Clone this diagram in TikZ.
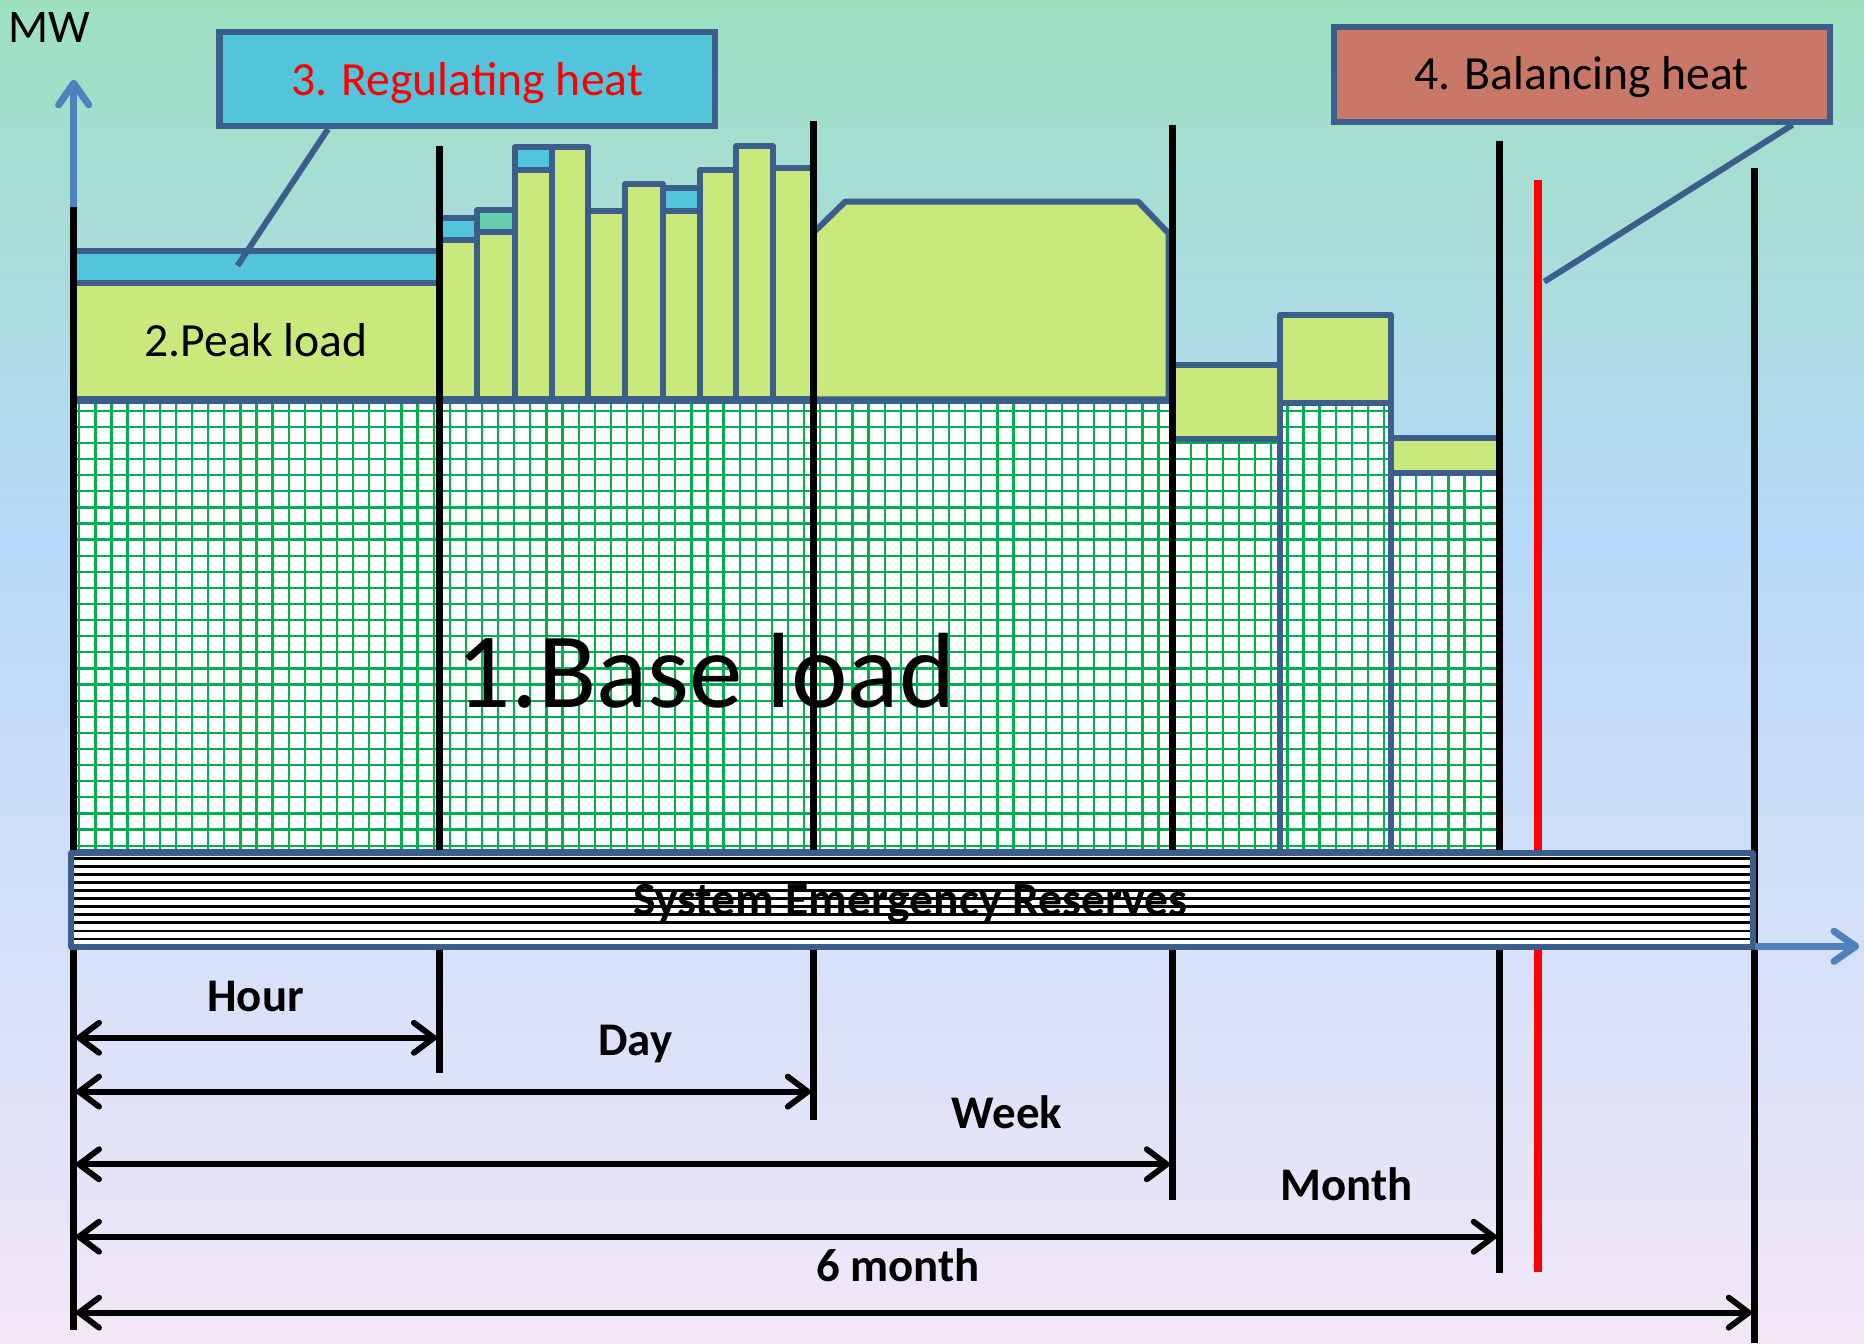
\documentclass[tikz,border=0pt]{standalone}
\usepackage{fontspec}
\setmainfont{Carlito}
\usetikzlibrary{arrows.meta}
\definecolor{bgA}{RGB}{157,224,192}
\definecolor{bgB}{RGB}{183,217,249}
\definecolor{bgC}{RGB}{242,231,247}
\definecolor{bordblue}{RGB}{59,94,139}
\definecolor{peakc}{RGB}{202,233,125}
\definecolor{regc}{RGB}{82,197,220}
\definecolor{tealc}{RGB}{102,205,176}
\definecolor{balc}{RGB}{201,119,103}
\definecolor{axisblue}{RGB}{79,129,189}
\definecolor{gridgreen}{RGB}{0,176,80}
\definecolor{redline}{RGB}{255,0,0}
\tikzset{
  blk/.style={draw=black, line width=4.3pt},
  bb/.style={draw=bordblue, line width=3.6pt, line join=round},
  pk/.style={bb, fill=peakc},
  gridl/.style={draw=gridgreen, line width=1.35pt},
  hatchl/.style={draw=black, line width=1.5pt},
  dimarrow/.style={draw=black, line width=3.5pt,
    {Straight Barb[length=12pt,width=18pt,round]}-{Straight Barb[length=12pt,width=18pt,round]}},
  axisarrow/.style={draw=axisblue, line width=4.2pt, -{Straight Barb[length=13pt,width=18pt,round]}},
  callout/.style={draw=bordblue, line width=3.6pt},
  boldlbl/.style={inner sep=0pt, anchor=base, font=\fontsize{28}{32}\selectfont\bfseries},
  reglbl/.style={inner sep=0pt, anchor=base, font=\fontsize{28.5}{32}\selectfont},
}
\begin{document}
\begin{tikzpicture}[x=0.025cm, y=-0.025cm]
\useasboundingbox (0,0) rectangle (1568,1130);
% background
\shade[top color=bgA, bottom color=bgB] (0,0) rectangle (1568,451);
\shade[top color=bgB, bottom color=bgC] (0,450) rectangle (1568,1130);

% base load grid
\begin{scope}
\clip (62,337) -- (986,337) -- (986,369.5) -- (1077,369.5) -- (1077,339) -- (1170,339)
      -- (1170,398) -- (1261,398) -- (1261,717) -- (62,717) -- cycle;
\fill[white] (0,300) rectangle (1300,730);
\foreach \i in {0,...,88} \draw[gridl] ({66.7+13.55*\i},330) -- ({66.7+13.55*\i},720);
\foreach \j in {0,...,27} \draw[gridl] (60,{345.5+13.55*\j}) -- (1265,{345.5+13.55*\j});
\end{scope}
\draw[bb] (62,337) rectangle (986,717);
\draw[bb] (986,369.5) rectangle (1077,717);
\draw[bb] (1077,339) rectangle (1170,717);
\draw[bb] (1170,398) rectangle (1261,717);

% peak load + regulating
\draw[pk] (62,238) rectangle (370,336);
\draw[bb, fill=regc] (62,211) rectangle (370,238);
\foreach \a/\b/\t in {370/401.5/202, 401.5/433/195, 433/464/143, 464/495/124,
  495/526/177.5, 526/557.5/155, 557.5/588.5/177.5, 588.5/619.5/143,
  619.5/650.5/123, 650.5/684/141}
  \draw[pk] (\a,\t) rectangle (\b,336);
\draw[bb, fill=regc] (370,183.7) rectangle (401.5,202);
\draw[bb, fill=tealc] (401.5,176.7) rectangle (433,195);
\draw[bb, fill=regc] (433,124) rectangle (464,143);
\draw[bb, fill=regc] (557.5,158) rectangle (588.5,177.5);
\draw[pk] (684,336) -- (684,196) -- (711,169.6) -- (957.5,169.6) -- (983,196.3) -- (983,336) -- cycle;
\draw[pk] (986,307) rectangle (1077,369.5);
\draw[pk] (1077,265) rectangle (1170,339);
\draw[pk] (1170,368.6) rectangle (1261,398);

% vertical division lines
\coordinate (t0) at (62,173);     \coordinate (b0) at (62,1118.5);
\coordinate (t1) at (370,123);    \coordinate (b1) at (370,903);
\coordinate (t2) at (684.5,102);  \coordinate (b2) at (684.5,942);
\coordinate (t3) at (986.5,105);  \coordinate (b3) at (986.5,1009.5);
\coordinate (t4) at (1261.5,119); \coordinate (b4) at (1261.5,1070.5);
\coordinate (t5) at (1476,141);   \coordinate (b5) at (1476,1130);
\coordinate (tr) at (1293.7,151.4); \coordinate (br) at (1293.7,1070);
\foreach \k in {0,...,5} \draw[blk] (t\k) -- (b\k);
\draw[draw=redline, line width=4.4pt] (tr) -- (br);

% system emergency reserves
\fill[white] (60,717.8) rectangle (1474.5,796.3);
\foreach \i in {0,...,10} \draw[hatchl] (60,{722.2+6.75*\i}) -- (1474.5,{722.2+6.75*\i});
\draw[bb] (60,717.8) rectangle (1474.5,796.3);
\node[boldlbl, font=\fontsize{28.5}{32}\selectfont\bfseries] (ser) at (766,770.5) {System Emergency Reserves};

% axes
\coordinate (ybot) at (62,174);  \coordinate (ytop) at (62,67);
\coordinate (xleft) at (1476,796); \coordinate (xright) at (1564,796);
\draw[axisarrow] (ybot) -- (ytop);
\draw[axisarrow] (xleft) -- (xright);
\node[reglbl, anchor=base west, font=\fontsize{28}{30}\selectfont] (mw) at (7,36) {MW};

% callouts
\node[draw=bordblue, line width=3.6pt, fill=regc, minimum width=10.42cm, minimum height=1.985cm, inner sep=0pt] (regbox) at (393.1,66.3) {};
\node[reglbl, text=redline] (regtxt) at (393,80) {3. Regulating heat};
\coordinate (regtip) at (199.8,223.5);
\path (regbox.south west) ++(93.8,0) coordinate (regstart);
\draw[callout] (regstart) -- (regtip);

\node[draw=bordblue, line width=3.6pt, fill=balc, minimum width=10.425cm, minimum height=2cm, inner sep=0pt] (balbox) at (1330.5,62.4) {};
\node[reglbl] (baltxt) at (1330.5,75.7) {4. Balancing heat};
\coordinate (baltip) at (1299,237);
\path (balbox.south west) ++(388.5,0) coordinate (balstart);
\draw[callout] (balstart) -- (baltip);

% region labels
\node[reglbl] (peaktxt) at (215.5,300) {2.Peak load};
\node[inner sep=0pt, anchor=base, font=\fontsize{64}{72}\selectfont] (basetxt) at (594,595) {1.Base load};

% time-span arrows
\coordinate (a0) at (64,873);     \coordinate (a1) at (367.5,873);
\coordinate (c0) at (64,918.3);   \coordinate (c1) at (682,918.3);
\coordinate (d0) at (64,979.4);   \coordinate (d1) at (984,979.4);
\coordinate (e0) at (64,1040.3);  \coordinate (e1) at (1259,1040.3);
\coordinate (f0) at (64,1104.2);  \coordinate (f1) at (1473.5,1104.2);
\draw[dimarrow] (a0) -- (a1);
\draw[dimarrow] (c0) -- (c1);
\draw[dimarrow] (d0) -- (d1);
\draw[dimarrow] (e0) -- (e1);
\draw[dimarrow] (f0) -- (f1);
\node[boldlbl] (hour) at (215,850.5) {Hour};
\node[boldlbl] (day) at (534.5,887.5) {Day};
\node[boldlbl] (week) at (847,949) {Week};
\node[boldlbl] (month) at (1133,1009.5) {Month};
\node[boldlbl] (sixm) at (755.4,1077.6) {6 month};
\end{tikzpicture}
\end{document}
